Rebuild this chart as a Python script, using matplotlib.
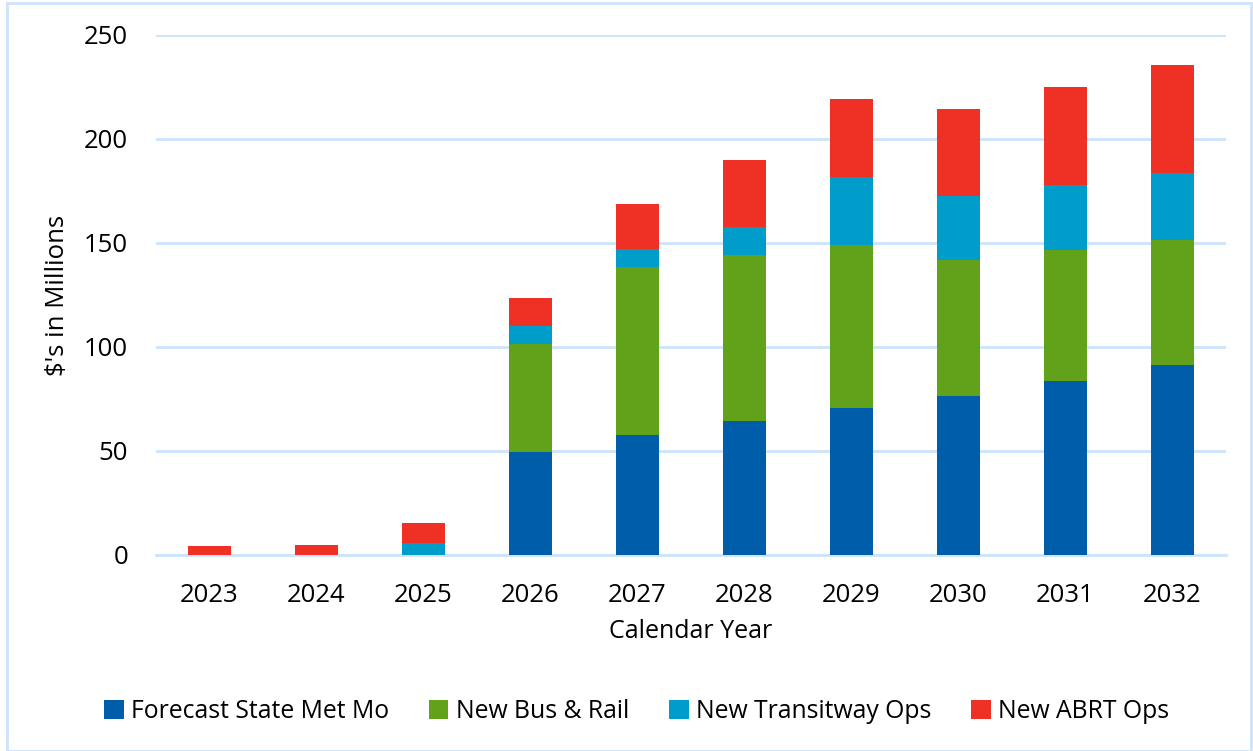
import matplotlib.pyplot as plt
from matplotlib.patches import Rectangle
import numpy as np

years = ['2023', '2024', '2025', '2026', '2027', '2028', '2029', '2030', '2031', '2032']
state_met_mo = [0, 0, 0, 49.7, 57.9, 64.3, 70.7, 76.6, 83.8, 91.5]
bus_rail = [0, 0, 0, 51.6, 80.4, 79.8, 78.1, 65.4, 63.0, 60.1]
transitway = [0, 0, 5.8, 8.8, 8.7, 13.4, 32.8, 30.5, 31.1, 32.1]
abrt = [4.2, 4.7, 9.4, 13.5, 21.6, 32.2, 37.6, 42.1, 47.0, 52.1]

labels = ['Forecast State Met Mo', 'New Bus & Rail', 'New Transitway Ops', 'New ABRT Ops']
colors = ['#005DAA', '#62A21A', '#009DCB', '#EF3125']
grid_color = '#CCE4FA'

plt.rcParams['font.family'] = ['Open Sans', 'DejaVu Sans']

fig = plt.figure(figsize=(12.53, 7.51), dpi=100)
ax = fig.add_axes([156 / 1253, 1 - 555 / 751, 1070 / 1253, 520 / 751])

x = np.arange(len(years))
bottom = np.zeros(len(years))
for vals, lab, col in zip([state_met_mo, bus_rail, transitway, abrt], labels, colors):
    ax.bar(x, vals, width=0.4, bottom=bottom, color=col, label=lab, zorder=3)
    bottom += np.array(vals)

ax.set_xlim(-0.5, len(years) - 0.5)
ax.set_ylim(0, 250)
ax.set_yticks([0, 50, 100, 150, 200, 250])
ax.set_xticks(x)
ax.set_xticklabels(years)
ax.grid(axis='y', color=grid_color, linewidth=2, zorder=0)
for s in ['top', 'right', 'left']:
    ax.spines[s].set_visible(False)
ax.spines['bottom'].set_color(grid_color)
ax.spines['bottom'].set_linewidth(2)
ax.tick_params(axis='both', length=0, labelsize=18.5, colors='black')
ax.tick_params(axis='y', pad=20)
ax.tick_params(axis='x', pad=20)
ax.set_ylabel("$'s in Millions", fontsize=18.5, labelpad=10)
ax.set_xlabel('Calendar Year', fontsize=18, labelpad=8)

fig.legend(loc='center', bbox_to_anchor=(0.508, 1 - 712 / 751), ncol=4, frameon=False,
           fontsize=17.8, handlelength=0.8, handleheight=0.8, handletextpad=0.3,
           columnspacing=1.6)

fig.patches.append(Rectangle((7 / 1253, 0), 1 - 7 / 1253 - 2 / 1253, 1 - 3 / 751,
                             transform=fig.transFigure, fill=False,
                             edgecolor=grid_color, linewidth=2))

fig.savefig('out.png', dpi=100)
